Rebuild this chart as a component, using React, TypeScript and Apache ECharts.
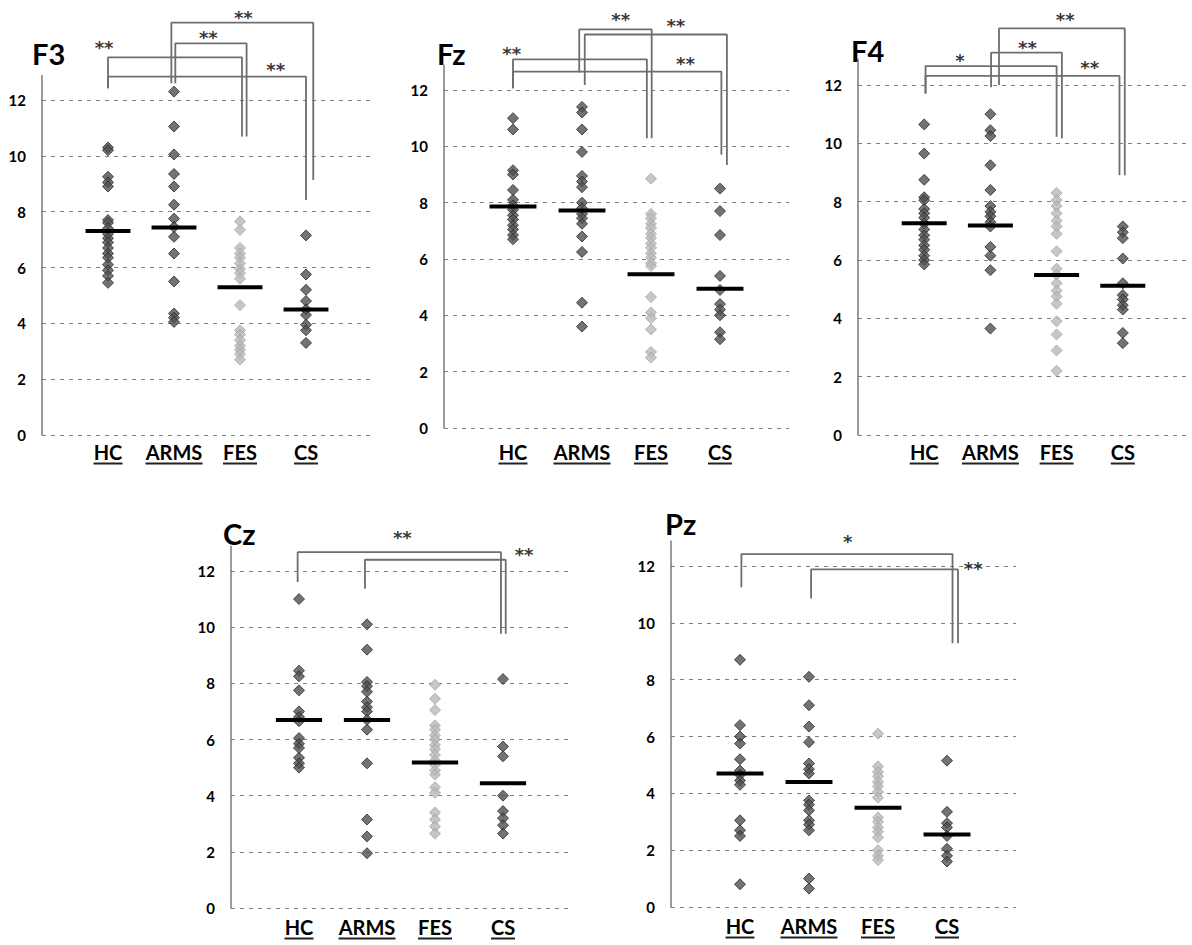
import React, { useEffect, useRef } from 'react';
import * as echarts from 'echarts';

const groups = ['HC', 'ARMS', 'FES', 'CS'];

// F3
const F3_HC = [10.3, 10.2, 9.25, 9.05, 8.9, 7.7, 7.6, 7.4, 7.2, 7.05, 6.9, 6.7, 6.5, 6.35, 6.1, 5.9, 5.7, 5.45];
const F3_ARMS = [12.3, 11.05, 10.05, 9.35, 8.9, 8.25, 7.75, 7.45, 7.1, 6.5, 5.5, 4.35, 4.2, 4.05];
const F3_FES = [7.65, 7.35, 6.7, 6.5, 6.35, 6.15, 5.95, 5.8, 5.6, 4.65, 3.75, 3.6, 3.4, 3.2, 3.05, 2.9, 2.7];
const F3_CS = [7.15, 5.75, 5.2, 4.8, 4.5, 4.3, 3.95, 3.75, 3.3];
const F3_MEANS = [7.31, 7.43, 5.29, 4.5];
const F3_BRACKETS = [[1.0, 12.42, 13.53, 3.03, 10.69], [1.0, 12.42, 12.84, 4.0, 8.42], [2.02, 12.6, 14.03, 3.1, 10.69], [1.96, 12.6, 14.77, 4.11, 9.13]];
const F3_STARS: [number, number, string][] = [[0.94, 14.03, '**'], [3.54, 13.25, '**'], [2.52, 14.39, '**'], [3.05, 15.1, '**']];

// Fz
const FZ_HC = [11.0, 10.6, 9.15, 9.0, 8.45, 8.1, 7.9, 7.75, 7.55, 7.4, 7.2, 7.05, 6.85, 6.7];
const FZ_ARMS = [11.4, 11.2, 10.6, 9.8, 8.95, 8.75, 8.55, 8.0, 7.8, 7.6, 7.45, 7.25, 6.8, 6.25, 4.45, 3.6];
const FZ_FES = [8.85, 7.6, 7.45, 7.25, 7.1, 6.9, 6.75, 6.55, 6.4, 6.2, 6.05, 5.85, 5.75, 4.65, 4.1, 3.9, 3.5, 2.7, 2.5];
const FZ_CS = [8.5, 7.7, 6.85, 5.4, 4.9, 4.4, 4.2, 4.0, 3.4, 3.15];
const FZ_MEANS = [7.86, 7.72, 5.46, 4.94];
const FZ_BRACKETS = [[1.0, 12.06, 13.09, 2.94, 10.29], [1.0, 12.06, 12.65, 4.02, 9.7], [1.96, 12.62, 14.15, 3.01, 10.29], [2.04, 12.18, 13.97, 4.1, 9.34]];
const FZ_STARS: [number, number, string][] = [[0.98, 13.44, '**'], [3.5, 13.09, '**'], [2.56, 14.66, '**'], [3.36, 14.42, '**']];

// F4
const F4_HC = [10.65, 9.65, 8.75, 8.15, 8.05, 7.75, 7.6, 7.45, 7.25, 7.05, 6.85, 6.7, 6.5, 6.35, 6.15, 6.0, 5.85];
const F4_ARMS = [11.0, 10.45, 10.25, 9.25, 8.4, 7.85, 7.65, 7.5, 7.3, 7.15, 6.45, 6.15, 5.65, 3.65];
const F4_FES = [8.3, 8.05, 7.85, 7.6, 7.35, 7.15, 6.9, 6.3, 5.7, 5.5, 5.2, 4.95, 4.75, 4.5, 3.9, 3.45, 2.9, 2.2];
const F4_CS = [7.15, 6.95, 6.75, 6.05, 5.2, 4.8, 4.65, 4.45, 4.3, 3.5, 3.15];
const F4_MEANS = [7.26, 7.18, 5.49, 5.12];
const F4_BRACKETS = [[1.02, 11.71, 12.65, 3.0, 10.23], [1.02, 11.71, 12.31, 3.95, 8.91], [2.01, 11.92, 13.11, 3.08, 10.17], [2.13, 12.0, 13.94, 4.03, 8.91]];
const F4_STARS: [number, number, string][] = [[1.54, 12.97, '*'], [3.5, 12.74, '**'], [2.56, 13.41, '**'], [3.13, 14.4, '**']];

// Cz
const CZ_HC = [11.0, 8.45, 8.25, 7.75, 7.0, 6.8, 6.65, 6.05, 5.85, 5.7, 5.35, 5.15, 5.0];
const CZ_ARMS = [10.1, 9.2, 8.05, 7.9, 7.7, 7.35, 7.15, 7.0, 6.7, 6.35, 5.15, 3.15, 2.55, 1.95];
const CZ_FES = [7.95, 7.45, 7.05, 6.5, 6.35, 6.15, 6.0, 5.8, 5.65, 5.45, 5.25, 5.1, 4.9, 4.75, 4.3, 4.1, 3.4, 3.15, 2.9, 2.65];
const CZ_CS = [8.15, 5.75, 5.4, 4.0, 3.45, 3.2, 2.95, 2.65];
const CZ_MEANS = [6.69, 6.69, 5.18, 4.44];
const CZ_BRACKETS = [[0.98, 11.61, 12.67, 3.97, 9.77], [1.97, 11.37, 12.4, 4.04, 9.77]];
const CZ_STARS: [number, number, string][] = [[2.52, 13.35, '**'], [4.31, 12.73, '**']];

// Pz
const PZ_HC = [8.7, 6.4, 6.0, 5.75, 5.2, 4.8, 4.65, 4.45, 4.3, 3.05, 2.7, 2.5, 0.8];
const PZ_ARMS = [8.1, 7.1, 6.35, 5.8, 5.05, 4.85, 4.7, 3.75, 3.6, 3.4, 3.05, 2.9, 2.7, 1.0, 0.65];
const PZ_FES = [6.1, 4.95, 4.75, 4.6, 4.4, 4.25, 4.05, 3.85, 3.15, 3.0, 2.8, 2.65, 2.45, 2.0, 1.8, 1.65];
const PZ_CS = [5.15, 3.35, 2.95, 2.8, 2.5, 2.05, 1.8, 1.6];
const PZ_MEANS = [4.7, 4.4, 3.49, 2.55];
const PZ_BRACKETS = [[1.02, 11.25, 12.42, 4.08, 9.28], [2.03, 10.86, 11.88, 4.16, 9.28]];
const PZ_STARS: [number, number, string][] = [[2.56, 13.01, '*'], [4.38, 12.04, '**']];

const Y_MIN = 0;
const Y_MAX = 12;
const Y_STEP = 2;
const AXIS_TOP = 12.9;

const panels = [
  { name: 'F3', data: [F3_HC, F3_ARMS, F3_FES, F3_CS], means: F3_MEANS, brackets: F3_BRACKETS, stars: F3_STARS,
    grid: { left: 42, top: 100, width: 330, height: 335 }, title: { left: 27, top: 34 }, labelMargin: 7 },
  { name: 'Fz', data: [FZ_HC, FZ_ARMS, FZ_FES, FZ_CS], means: FZ_MEANS, brackets: FZ_BRACKETS, stars: FZ_STARS,
    grid: { left: 444, top: 90, width: 345, height: 338 }, title: { left: 432, top: 34 }, labelMargin: 14 },
  { name: 'F4', data: [F4_HC, F4_ARMS, F4_FES, F4_CS], means: F4_MEANS, brackets: F4_BRACKETS, stars: F4_STARS,
    grid: { left: 858, top: 85, width: 337, height: 350 }, title: { left: 846, top: 31 }, labelMargin: 7 },
  { name: 'Cz', data: [CZ_HC, CZ_ARMS, CZ_FES, CZ_CS], means: CZ_MEANS, brackets: CZ_BRACKETS, stars: CZ_STARS,
    grid: { left: 231, top: 571, width: 340, height: 337 }, title: { left: 218, top: 514 }, labelMargin: 9 },
  { name: 'Pz', data: [PZ_HC, PZ_ARMS, PZ_FES, PZ_CS], means: PZ_MEANS, brackets: PZ_BRACKETS, stars: PZ_STARS,
    grid: { left: 671, top: 566, width: 345, height: 341 }, title: { left: 660, top: 504 }, labelMargin: 9 },
];

const LABEL_FONT = 'bold 20px Lato';

function measure(t: string): number {
  const ctx = document.createElement('canvas').getContext('2d');
  if (!ctx) return t.length * 12;
  ctx.font = LABEL_FONT;
  return ctx.measureText(t).width;
}

export default function App() {
  const ref = useRef<HTMLDivElement>(null);
  useEffect(() => {
    if (!ref.current) return;
    const chart = echarts.init(ref.current, undefined, { renderer: 'svg' });
    const widths = groups.map((g) => Math.round(measure(g)));
    const rich: any = {
      t: { fontFamily: 'Lato', fontWeight: 'bold', fontSize: 20, color: '#000', lineHeight: 20 },
    };
    widths.forEach((w, i) => {
      rich['u' + i] = { width: w, height: 2, lineHeight: 3, backgroundColor: '#222', fontSize: 1 };
    });

    const grids: any[] = [];
    const xAxes: any[] = [];
    const yAxes: any[] = [];
    const titles: any[] = [];
    const series: any[] = [];

    panels.forEach((p, pi) => {
      grids.push({ ...p.grid, containLabel: false });
      titles.push({
        text: p.name, left: p.title.left, top: p.title.top,
        textStyle: { fontFamily: 'Lato', fontWeight: 'bold', fontSize: 29, color: '#000' },
      });
      xAxes.push({
        type: 'value', gridIndex: pi, min: 0, max: 5, interval: 1,
        axisLine: { show: false }, axisTick: { show: false }, splitLine: { show: false },
        axisLabel: {
          margin: p.labelMargin,
          formatter: (v: number) => {
            const i = Math.round(v) - 1;
            if (i < 0 || i > 3 || Math.abs(v - Math.round(v)) > 1e-6) return '';
            return `{t|${groups[i]}}\n{u${i}| }`;
          },
          rich,
        },
      });
      yAxes.push({
        type: 'value', gridIndex: pi, min: Y_MIN, max: Y_MAX, interval: Y_STEP,
        axisLine: { show: true, lineStyle: { color: '#7a7a7a', width: 1.5 } },
        axisTick: { show: false },
        axisLabel: { fontFamily: 'Lato', fontWeight: 'bold', fontSize: 15, color: '#000', margin: 16 },
        splitLine: { show: true, lineStyle: { color: '#808080', width: 1, type: [4, 5] } },
      });
      // axis extension above top tick
      series.push({
        type: 'line', xAxisIndex: pi, yAxisIndex: pi, clip: false, symbol: 'none', silent: true,
        data: [[0, Y_MAX], [0, AXIS_TOP]],
        lineStyle: { color: '#7a7a7a', width: 1.5 },
      });
      // points
      p.data.forEach((vals, gi) => {
        const light = groups[gi] === 'FES';
        series.push({
          type: 'scatter', xAxisIndex: pi, yAxisIndex: pi, symbol: 'diamond', symbolSize: 11, clip: false,
          data: vals.map((v) => [gi + 1, v]),
          itemStyle: light
            ? { color: '#b9b9b9', borderColor: '#a5a5a5', borderWidth: 1 }
            : { color: '#505050', borderColor: '#2a2a2a', borderWidth: 1 },
          z: 3,
        });
      });
      // means
      p.means.forEach((m, gi) => {
        series.push({
          type: 'line', xAxisIndex: pi, yAxisIndex: pi, symbol: 'none', silent: true,
          data: [[gi + 1 - 0.34, m], [gi + 1 + 0.34, m]],
          lineStyle: { color: '#000', width: 4 }, z: 5,
        });
      });
      // brackets
      p.brackets.forEach((b) => {
        series.push({
          type: 'line', xAxisIndex: pi, yAxisIndex: pi, symbol: 'none', clip: false, silent: true,
          data: [[b[0], b[1]], [b[0], b[2]], [b[3], b[2]], [b[3], b[4]]],
          lineStyle: { color: '#6e6e6e', width: 1.8 }, z: 4,
        });
      });
      // stars
      series.push({
        type: 'scatter', xAxisIndex: pi, yAxisIndex: pi, symbolSize: 1, clip: false, silent: true,
        itemStyle: { color: 'rgba(0,0,0,0)' },
        data: p.stars.map((s) => ({ value: [s[0], s[1]], name: s[2] })),
        label: {
          show: true, position: 'inside', formatter: (d: any) => d.name,
          fontFamily: 'DejaVu Sans', fontWeight: 'bold', fontSize: 18, color: '#000', offset: [0, 4],
        },
        z: 6,
      });
    });

    chart.setOption({
      animation: false,
      backgroundColor: '#fff',
      title: titles,
      grid: grids,
      xAxis: xAxes,
      yAxis: yAxes,
      series,
    });
    return () => chart.dispose();
  }, []);
  return <div ref={ref} style={{ position: 'absolute', left: 0, top: 0, width: 1192, height: 945 }} />;
}
